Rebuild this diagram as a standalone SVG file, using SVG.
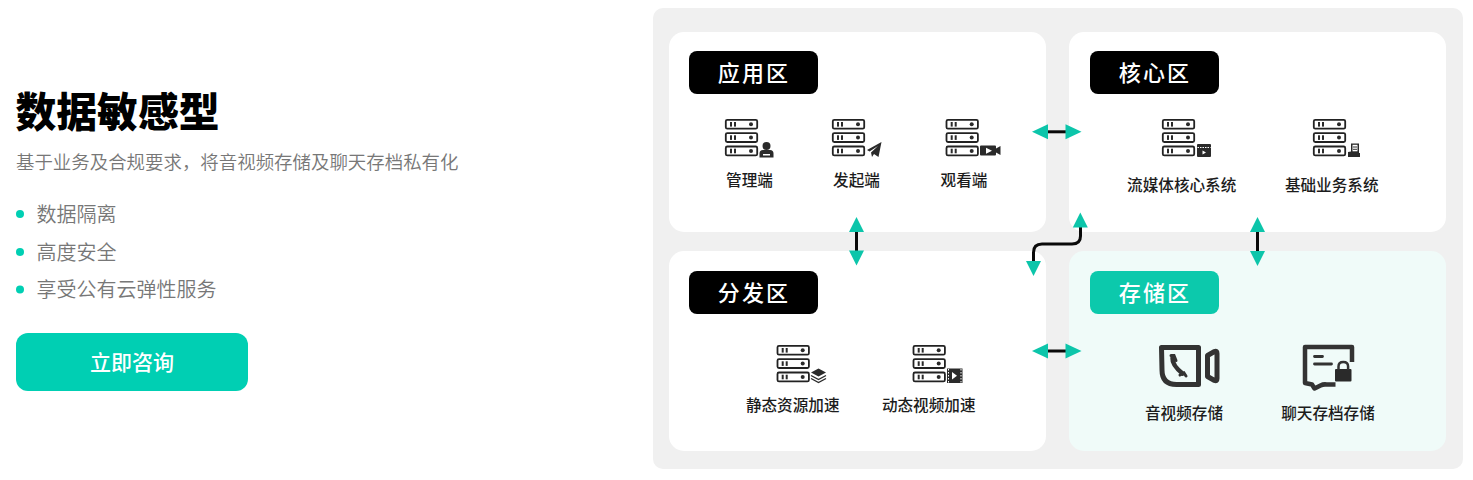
<svg xmlns="http://www.w3.org/2000/svg" width="1473" height="480" viewBox="0 0 1473 480">
<style>
text{font-family:"Noto Sans CJK SC","Noto Sans",sans-serif}
.title{font-size:40.800px;font-weight:900;fill:#000}
.sub{font-size:18.45px;fill:#777;font-weight:350}
.li{font-size:20px;fill:#777;font-weight:350}
.btn{font-size:21px;fill:#fff;font-weight:500;text-anchor:middle}
.tag{font-size:22px;fill:#fff;font-weight:500;text-anchor:middle;letter-spacing:2.2px}
.lbl{font-size:15.600px;fill:#1c1c1c;font-weight:500;text-anchor:middle}
.card{fill:#fff}
.srv{fill:none;stroke:#222;stroke-width:1.800}
.dk{fill:#2a2a2a}
.wire{fill:none;stroke:#0a0a0a;stroke-width:3}
.head{fill:#0cc5aa}
</style>
<defs>
<g id="server">
<rect class="srv" x=".8" y=".8" width="31.4" height="8.9" rx="1.5"/>
<rect class="srv" x=".8" y="14.1" width="31.4" height="8.9" rx="1.5"/>
<rect class="srv" x=".8" y="27.5" width="31.4" height="8.9" rx="1.5"/>
<g class="dk">
<rect x="5" y="3" width="2" height="4.6"/><rect x="9" y="3" width="2" height="4.6"/><circle cx="26" cy="5.2" r="2"/>
<rect x="5" y="16.3" width="2" height="4.6"/><rect x="9" y="16.3" width="2" height="4.6"/><circle cx="26" cy="18.5" r="2"/>
<rect x="5" y="29.7" width="2" height="4.6"/><rect x="9" y="29.7" width="2" height="4.6"/><circle cx="26" cy="32" r="2"/>
</g>
</g>
</defs>

<g id="intro">
<text class="title" x="15.500" y="126.500">数据敏感型</text>
<text class="sub" x="16" y="168.500">基于业务及合规要求，将音视频存储及聊天存档私有化</text>
<circle cx="20" cy="214" r="4" fill="#00cfb3"/><text class="li" x="36.500" y="222">数据隔离</text>
<circle cx="20" cy="252" r="4" fill="#00cfb3"/><text class="li" x="36.500" y="260">高度安全</text>
<circle cx="20" cy="289.500" r="4" fill="#00cfb3"/><text class="li" x="36.500" y="297">享受公有云弹性服务</text>
</g>
<g id="cta">
<rect x="16" y="333" width="232" height="58" rx="12" fill="#00cfb3"/>
<text class="btn" x="132" y="369.500">立即咨询</text>
</g>

<rect id="panel" x="653" y="8" width="810" height="461" rx="10" fill="#f0f0f0"/>

<g id="zone-app">
<rect class="card" x="669" y="32" width="377" height="200" rx="15"/>
<rect x="689" y="51" width="129" height="43" rx="8" fill="#000"/>
<text class="tag" x="754" y="80.500">应用区</text>
</g>
<g id="zone-core">
<rect class="card" x="1069" y="32" width="377" height="200" rx="15"/>
<rect x="1090" y="51" width="129" height="43" rx="8" fill="#000"/>
<text class="tag" x="1155" y="80.500">核心区</text>
</g>
<g id="zone-dist">
<rect class="card" x="669" y="251" width="377" height="200" rx="15"/>
<rect x="689" y="271" width="129" height="43" rx="8" fill="#000"/>
<text class="tag" x="754" y="300.500">分发区</text>
</g>
<g id="zone-store">
<rect x="1069" y="251" width="377" height="200" rx="15" fill="#f0fbf9"/>
<rect x="1090" y="271" width="129" height="43" rx="8" fill="#0cc9ac"/>
<text class="tag" x="1155" y="300.500">存储区</text>
</g>

<g id="node-admin">
<use href="#server" x="725" y="119"/>
<circle class="dk" cx="766.500" cy="146" r="4"/>
<path class="dk" d="M759.500 157.500v-4q0-3.500 3.500-3.500h7q3.500 0 3.500 3.500v4zM763 155.500h7v-1.500h-7z" fill-rule="evenodd"/>
<text class="lbl" x="749.500" y="185.500">管理端</text>
</g>
<g id="node-send">
<use href="#server" x="832" y="119"/>
<path class="dk" d="M867 150l14.500-8-3 15-4.500-3-2 3-1-4.500 7-6.500-8.500 5.500z"/>
<text class="lbl" x="856.500" y="185.500">发起端</text>
</g>
<g id="node-view">
<use href="#server" x="945.700" y="119"/>
<path class="dk" d="M981 145.500h14q1 0 1 1v2l4.500-2.500v9l-4.500-2.500v2q0 1-1 1h-14q-1 0-1-1v-8q0-1 1-1z"/>
<path fill="#fff" d="M986 147.800l6 3-6 3z"/>
<text class="lbl" x="964" y="185.500">观看端</text>
</g>
<g id="node-stream">
<use href="#server" x="1162" y="119"/>
<rect class="dk" x="1197" y="144" width="14" height="13" rx="1"/>
<path stroke="#fff" stroke-width="1" stroke-dasharray="1.500 1" d="M1197.500 147.500h13"/>
<path fill="#fff" d="M1202.500 150.500l3.500 2-3.500 2z"/>
<text class="lbl" x="1181.700" y="191">流媒体核心系统</text>
</g>
<g id="node-biz">
<use href="#server" x="1313" y="119"/>
<path class="dk" d="M1348 152l3-.5v-8h8v9.500h1v4h-12z"/>
<rect fill="#fff" x="1352.500" y="144.800" width="5" height="6.500"/>
<path stroke="#333" d="M1353 147h4M1353 149.300h4"/>
<text class="lbl" x="1331.700" y="191">基础业务系统</text>
</g>
<g id="node-static">
<use href="#server" x="776.700" y="345"/>
<path class="dk" d="M818.500 368.500l7.500 4-7.500 4-7.500-4z"/>
<path fill="none" stroke="#2a2a2a" stroke-width="1.400" d="M811 375.500l7.500 4 7.500-4M811 378.500l7.500 4 7.500-4"/>
<text class="lbl" x="792.700" y="411.200">静态资源加速</text>
</g>
<g id="node-dynamic">
<use href="#server" x="912.700" y="345"/>
<rect class="dk" x="947" y="368.500" width="15.500" height="14.500"/>
<path fill="#fff" d="M952 372l5 3.700-5 3.700z"/>
<path stroke="#fff" stroke-width="1" stroke-dasharray="1.500 1.500" d="M948.500 369v14M961 369v14"/>
<text class="lbl" x="928.700" y="411.200">动态视频加速</text>
</g>
<g id="node-av">
<path fill="none" stroke="#333" stroke-width="5" stroke-linejoin="round" d="M1161.500 347.500h37v37h-22q-14.500 0-14.500-14.500z"/>
<path fill="none" stroke="#333" stroke-width="5" stroke-linejoin="round" d="M1207.500 355.500l7-4q2.500-1 2.500 2v25q0 3-2.500 2l-7-4z"/>
<path fill="none" stroke="#333" stroke-width="4.500" stroke-linecap="round" d="M1172.500 358q-.5 7 10 15.500"/>
<path fill="none" stroke="#333" stroke-width="3" stroke-linecap="round" d="M1171 355.500h3l2 5M1180 375l4-2 2 3"/>
<text class="lbl" x="1184" y="419.200">音视频存储</text>
</g>
<g id="node-chat">
<path fill="none" stroke="#333" stroke-width="4.500" stroke-linejoin="round" d="M1352 362v-15h-47v36l7 1.500 2.500 4 6-3q3-1.500 6-1h9"/>
<path stroke="#333" stroke-width="2.800" stroke-linecap="round" d="M1314.500 356.500h8M1314.500 364h17"/>
<rect class="dk" x="1335" y="369" width="16.500" height="12.500" rx="1"/>
<path fill="none" stroke="#333" stroke-width="2.500" d="M1338.500 370v-3.500q0-4.500 4.800-4.500t4.800 4.500v3.500"/>
<text class="lbl" x="1328" y="419.200">聊天存档存储</text>
</g>

<g id="connectors">
<path class="wire" d="M1047 131.800H1067"/>
<path class="wire" d="M1047 351H1067"/>
<path class="wire" d="M856.500 231V252"/>
<path class="wire" d="M1257.500 231V252"/>
<path class="wire" d="M1080.500 227V236Q1080.500 244 1072 244H1042Q1033.500 244 1033.500 252.500V262"/>
<g class="head">
<path d="M1032 131.800l16-7.500v15z"/><path d="M1081.500 131.800l-16-7.500v15z"/>
<path d="M1032 351l16-7.500v15z"/><path d="M1081.500 351l-16-7.500v15z"/>
<path d="M856.500 217l7.500 15h-15z"/><path d="M856.500 265.500l7.500-15h-15z"/>
<path d="M1257.500 217l7.500 15h-15z"/><path d="M1257.500 266l7.500-15h-15z"/>
<path d="M1080.300 212.500l7.500 15h-15z"/><path d="M1033.500 276l7.500-15h-15z"/>
</g>
</g>
</svg>
